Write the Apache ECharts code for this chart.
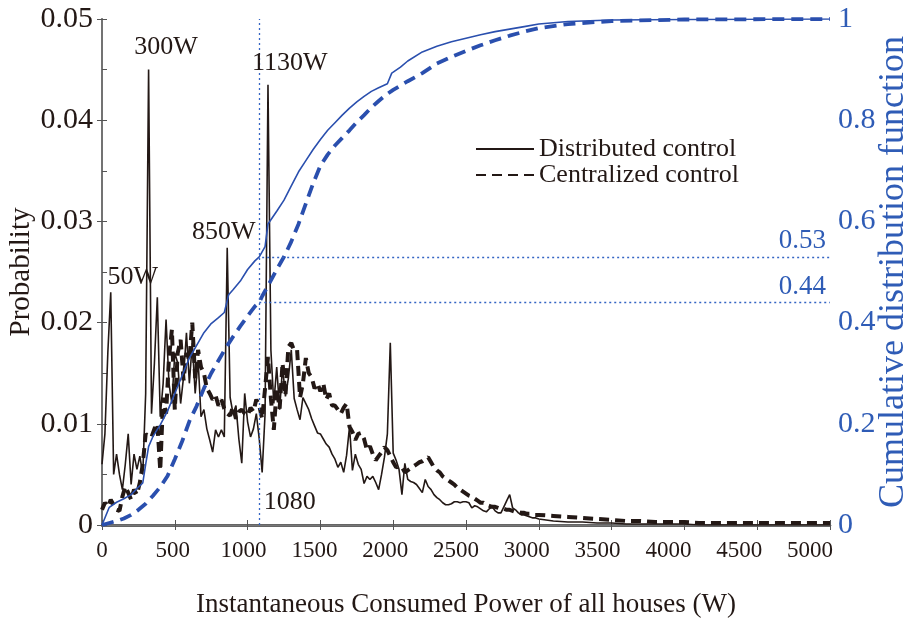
<!DOCTYPE html>
<html>
<head>
<meta charset="utf-8">
<script src="https://cdn.jsdelivr.net/npm/echarts@6/dist/echarts.min.js"></script>
<style>
  html, body { margin: 0; padding: 0; background: #fff; }
  #chart { width: 912px; height: 623px; }
</style>
</head>
<body>
<div id="chart"></div>
<script>
// power bins (W)
var powerGrid = [
  0, 20, 40, 60, 80, 100, 120, 140, 160, 180,
  200, 220, 240, 260, 280, 300, 320, 340, 360, 380,
  400, 420, 440, 460, 480, 500, 520, 540, 560, 580,
  600, 620, 640, 660, 680, 700, 720, 740, 760, 780,
  800, 820, 840, 860, 880, 900, 920, 940, 960, 980,
  1000, 1020, 1040, 1060, 1080, 1100, 1120, 1140, 1160, 1180,
  1200, 1220, 1240, 1260, 1280, 1300, 1320, 1340, 1360, 1380,
  1400, 1420, 1440, 1460, 1480, 1500, 1520, 1540, 1560, 1580,
  1600, 1620, 1640, 1660, 1680, 1700, 1720, 1740, 1760, 1780,
  1800, 1820, 1840, 1860, 1880, 1900, 1920, 1940, 1960, 1980,
  2000, 2020, 2040, 2060, 2080, 2100, 2120, 2140, 2160, 2180,
  2200, 2220, 2240, 2260, 2280, 2300, 2320, 2340, 2360, 2380,
  2400, 2420, 2440, 2460, 2480, 2500, 2520, 2540, 2560, 2580,
  2600, 2620, 2640, 2660, 2680, 2700, 2720, 2740, 2760, 2780,
  2800, 2820, 2840, 2860, 2880, 2900, 2920, 2940, 2960, 2980,
  3000,
  3100, 3200, 3300, 3400, 3500, 3600, 3700, 3800, 3900, 4000,
  4100, 4200, 4300, 4400, 4500, 4600, 4700, 4800, 4900, 5000
];

var distProb = [
  0.006, 0.009, 0.017, 0.023, 0.005, 0.007, 0.005, 0.0035, 0.006, 0.009,
  0.004, 0.007, 0.0055, 0.0068, 0.005, 0.013, 0.045, 0.011, 0.016, 0.0225,
  0.0107, 0.014, 0.0203, 0.014, 0.012, 0.017, 0.016, 0.012, 0.0146, 0.019,
  0.014, 0.018, 0.013, 0.0163, 0.0107, 0.0114, 0.0095, 0.0084, 0.0072, 0.0094,
  0.0087, 0.0094, 0.0087, 0.0274, 0.0126, 0.011, 0.0118, 0.0085, 0.0061, 0.013,
  0.0102, 0.0087, 0.0095, 0.011, 0.0085, 0.0052, 0.011, 0.0435, 0.0173, 0.012,
  0.0156, 0.0114, 0.0156, 0.0127, 0.0145, 0.0173, 0.0125, 0.0114, 0.0104, 0.0126,
  0.012, 0.0114, 0.0105, 0.0098, 0.0091, 0.009, 0.0085, 0.008, 0.0077, 0.007,
  0.0065, 0.0057, 0.0062, 0.0052, 0.0069, 0.0097, 0.0054, 0.007, 0.006, 0.0055,
  0.0041, 0.0048, 0.0045, 0.0048, 0.0042, 0.0035, 0.005, 0.0067, 0.009, 0.018,
  0.0071, 0.0064, 0.0055, 0.003, 0.0061, 0.0045, 0.0043, 0.0042, 0.004, 0.0036,
  0.0032, 0.0045, 0.0038, 0.0035, 0.003, 0.0027, 0.0025, 0.0022, 0.002, 0.002,
  0.0021, 0.0023, 0.0023, 0.0022, 0.0023, 0.0023, 0.0022, 0.0017, 0.0019, 0.0018,
  0.0016, 0.0014, 0.0013, 0.0016, 0.0018, 0.0014, 0.0012, 0.0012, 0.0018, 0.0024,
  0.003, 0.0017, 0.0015, 0.0012, 0.001, 0.001, 0.0009, 0.0008, 0.0007, 0.0007,
  0.0006,
  0.0004, 0.0003, 0.0003, 0.0002, 0.0002, 0.0001, 0.0001, 0.0001, 0.0001, 0.0001,
  0, 0, 0, 0, 0, 0, 0, 0, 0, 0
];

var centProb = [
  0.0015, 0.0022, 0.0018, 0.0025, 0.002, 0.0015, 0.0014, 0.0028, 0.0038, 0.0032,
  0.0025, 0.0035, 0.003, 0.0042, 0.006, 0.009, 0.0087, 0.0087, 0.0095, 0.010,
  0.0054, 0.0126, 0.011, 0.0165, 0.0193, 0.0114, 0.017, 0.0183, 0.0143, 0.017,
  0.0163, 0.020, 0.0145, 0.0173, 0.0156, 0.015, 0.0135, 0.013, 0.0124, 0.0128,
  0.0118, 0.0124, 0.0115, 0.011, 0.0108, 0.0117, 0.0105, 0.0112, 0.0114, 0.011,
  0.0108, 0.0116, 0.0112, 0.0124, 0.0118, 0.0105, 0.0135, 0.0166, 0.0125, 0.0094,
  0.0135, 0.0115, 0.016, 0.0128, 0.0176, 0.018, 0.0172, 0.0173, 0.0126, 0.014,
  0.0165, 0.015, 0.0146, 0.0135, 0.014, 0.0132, 0.014, 0.0124, 0.013, 0.0118,
  0.0118, 0.0114, 0.011, 0.0116, 0.012, 0.0097, 0.0092, 0.0084, 0.009, 0.0091,
  0.0085, 0.0074, 0.0078, 0.007, 0.0064, 0.0068, 0.0072, 0.0077, 0.0074, 0.0068,
  0.0062, 0.0057, 0.0058, 0.0057, 0.0052, 0.0054, 0.0056, 0.0058, 0.006, 0.0062,
  0.0063, 0.0065, 0.0067, 0.0062, 0.0057, 0.0054, 0.0052, 0.0048, 0.0046, 0.0044,
  0.0042, 0.004, 0.0037, 0.0035, 0.0033, 0.0031, 0.0029, 0.0028, 0.0026, 0.0024,
  0.0022, 0.0022, 0.002, 0.0019, 0.0018, 0.0018, 0.0017, 0.0016, 0.0016, 0.0015,
  0.0015, 0.0014, 0.0013, 0.0013, 0.0012, 0.0012, 0.0011, 0.0011, 0.001, 0.001,
  0.001,
  0.0009, 0.0008, 0.0007, 0.0006, 0.0005, 0.0004, 0.0004, 0.0003, 0.0003, 0.0003,
  0.0002, 0.0002, 0.0002, 0.0002, 0.0002, 0.0002, 0.0002, 0.0002, 0.0002, 0.0002
];

// cumulative distribution functions
var distCdfPower = [0, 50, 100, 150, 200, 250, 280, 300, 320, 350, 400, 450, 500, 550, 600, 650, 700, 750, 800, 840, 870, 900, 950, 1000, 1050, 1080, 1120, 1140, 1200, 1250, 1300, 1350, 1400, 1450, 1500, 1550, 1600, 1650, 1700, 1750, 1800, 1850, 1900, 1960, 1990, 2050, 2100, 2200, 2300, 2400, 2500, 2600, 2700, 2800, 2900, 3000, 3200, 3500, 4000, 5000];
var distCdf = [0, 0.035, 0.045, 0.052, 0.06, 0.075, 0.083, 0.12, 0.155, 0.175, 0.198, 0.225, 0.26, 0.295, 0.33, 0.355, 0.38, 0.398, 0.41, 0.42, 0.455, 0.465, 0.482, 0.505, 0.522, 0.53, 0.55, 0.595, 0.62, 0.642, 0.67, 0.698, 0.72, 0.742, 0.762, 0.78, 0.795, 0.81, 0.824, 0.836, 0.847, 0.857, 0.864, 0.872, 0.893, 0.905, 0.917, 0.935, 0.946, 0.955, 0.962, 0.969, 0.975, 0.98, 0.985, 0.99, 0.995, 0.998, 0.999, 1];

var centCdfPower = [0, 50, 100, 150, 200, 250, 300, 350, 400, 450, 500, 550, 600, 650, 700, 750, 800, 850, 900, 950, 1000, 1050, 1080, 1100, 1150, 1200, 1250, 1300, 1350, 1400, 1450, 1500, 1550, 1600, 1650, 1700, 1750, 1800, 1850, 1900, 1950, 2000, 2100, 2200, 2300, 2400, 2500, 2600, 2700, 2800, 2900, 3000, 3200, 3500, 4000, 5000];
var centCdf = [0, 0.004, 0.008, 0.013, 0.02, 0.03, 0.042, 0.058, 0.075, 0.097, 0.13, 0.165, 0.205, 0.235, 0.27, 0.3, 0.325, 0.35, 0.372, 0.393, 0.413, 0.432, 0.44, 0.452, 0.478, 0.505, 0.53, 0.56, 0.595, 0.635, 0.675, 0.71, 0.732, 0.75, 0.765, 0.78, 0.796, 0.81, 0.825, 0.838, 0.85, 0.86, 0.877, 0.893, 0.912, 0.925, 0.937, 0.948, 0.958, 0.967, 0.975, 0.982, 0.99, 0.996, 0.999, 1];

// annotations: [text, power, value]
var peakNotes = [
  ["300W", 440, 0.0472],
  ["1130W", 1290, 0.0456],
  ["850W", 836, 0.0289],
  ["50W", 212, 0.0245],
  ["1080", 1290, 0.0023]
];
var cdfNotes = [
  ["0.53", 4810, 0.562],
  ["0.44", 4810, 0.471]
];

var black = "#231815";
var blue = "#2a4fae";
var blueText = "#2f5cb6";
var serif = "Liberation Serif";

function pairs(xs, ys) {
  return xs.map(function (x, i) { return [x, ys[i]]; });
}
function fmt(v) {
  return String(Number(v.toFixed(2)));
}

var chart = echarts.init(document.getElementById("chart"));

var option = {
  animation: false,
  backgroundColor: "#fff",
  textStyle: { fontFamily: serif },
  grid: { left: 102, right: 82, top: 19, bottom: 98, containLabel: false, outerBoundsMode: "none" },
  legend: {
    data: ["Distributed control", "Centralized control"],
    orient: "vertical",
    left: 470,
    top: 131,
    itemWidth: 58,
    itemHeight: 14,
    itemGap: 0,
    itemStyle: { opacity: 0 },
    textStyle: { fontFamily: serif, fontSize: 26, color: black }
  },
  xAxis: [
    {
      type: "value",
      min: 0,
      max: 5000,
      interval: 500,
      position: "bottom",
      name: "Instantaneous Consumed Power of all houses (W)",
      nameLocation: "middle",
      nameGap: 66,
      nameMoveOverlap: false,
      nameTextStyle: { fontFamily: serif, fontSize: 27, color: black },
      axisLine: { lineStyle: { color: "#333", width: 2.5 } },
      axisTick: { inside: true, length: 5, lineStyle: { color: "#555" } },
      axisLabel: { show: false },
      splitLine: { show: false }
    },
    {
      type: "value",
      min: 0,
      max: 5000,
      interval: 500,
      position: "top",
      axisLine: { lineStyle: { color: "#777", width: 1.2 } },
      axisTick: { inside: true, length: 5, lineStyle: { color: "#555" } },
      axisLabel: { show: false },
      splitLine: { show: false }
    },
    {
      // tick labels of the source figure sit slightly tighter than its ticks
      type: "value",
      min: 0,
      max: 5141,
      interval: 500,
      position: "bottom",
      axisLine: { show: false },
      axisTick: { show: false },
      axisLabel: {
        fontFamily: serif, fontSize: 23, color: black, margin: 14,
        showMaxLabel: false,
        formatter: function (v) { return v <= 5000 ? String(v) : ""; }
      },
      splitLine: { show: false }
    }
  ],
  yAxis: [
    {
      type: "value",
      min: 0,
      max: 0.05,
      interval: 0.01,
      position: "left",
      name: "Probability",
      nameLocation: "middle",
      nameRotate: 90,
      nameGap: 66,
      nameMoveOverlap: false,
      nameTextStyle: { fontFamily: serif, fontSize: 29, color: black },
      axisLine: { lineStyle: { color: "#6a6a6a", width: 2 } },
      axisTick: { inside: true, length: 5, lineStyle: { color: "#555" } },
      minorTick: { show: true, splitNumber: 2, length: 5, lineStyle: { color: "#555" } },
      axisLabel: { fontFamily: serif, fontSize: 30, color: black, margin: 9, formatter: fmt },
      splitLine: { show: false }
    },
    {
      type: "value",
      min: 0,
      max: 1,
      interval: 0.2,
      position: "right",
      name: "Cumulative distribution function",
      nameLocation: "middle",
      nameRotate: 90,
      nameGap: 46,
      nameMoveOverlap: false,
      nameTextStyle: { fontFamily: serif, fontSize: 36, color: blueText },
      axisLine: { lineStyle: { color: "#777", width: 1.5 } },
      axisTick: { inside: true, length: 5, lineStyle: { color: "#555" } },
      axisLabel: { fontFamily: serif, fontSize: 30, color: blueText, margin: 8, formatter: fmt },
      splitLine: { show: false }
    }
  ],
  series: [
    {
      name: "Distributed control",
      type: "line",
      xAxisIndex: 0,
      yAxisIndex: 0,
      symbol: "none",
      data: pairs(powerGrid, distProb),
      lineStyle: { color: black, width: 1.6 },
      itemStyle: { color: black },
      markLine: {
        silent: true,
        symbol: "none",
        label: { show: false },
        lineStyle: { color: "#3565c4", width: 1.3, type: [2, 3] },
        data: [{ xAxis: 1080 }]
      },
      markPoint: {
        symbol: "circle",
        symbolSize: 0,
        label: {
          show: true,
          position: "inside",
          fontFamily: serif,
          fontSize: 26,
          color: black,
          formatter: function (p) { return p.name; }
        },
        data: peakNotes.map(function (n) { return { name: n[0], coord: [n[1], n[2]] }; })
      }
    },
    {
      name: "Centralized control",
      type: "line",
      xAxisIndex: 0,
      yAxisIndex: 0,
      symbol: "none",
      data: pairs(powerGrid, centProb),
      lineStyle: { color: black, width: 4, type: [10, 6] },
      itemStyle: { color: black }
    },
    {
      name: "CDF distributed",
      type: "line",
      xAxisIndex: 0,
      yAxisIndex: 1,
      symbol: "none",
      data: pairs(distCdfPower, distCdf),
      lineStyle: { color: blue, width: 1.6 },
      itemStyle: { color: blue },
      markLine: {
        silent: true,
        symbol: "none",
        label: { show: false },
        lineStyle: { color: "#3565c4", width: 1.3, type: [2, 3] },
        data: [
          [{ coord: [1100, 0.53] }, { coord: [5000, 0.53] }],
          [{ coord: [1080, 0.44] }, { coord: [5000, 0.44] }]
        ]
      },
      markPoint: {
        symbol: "circle",
        symbolSize: 0,
        label: {
          show: true,
          position: "inside",
          fontFamily: serif,
          fontSize: 27,
          color: blueText,
          formatter: function (p) { return p.name; }
        },
        data: cdfNotes.map(function (n) { return { name: n[0], coord: [n[1], n[2]] }; })
      }
    },
    {
      name: "CDF centralized",
      type: "line",
      xAxisIndex: 0,
      yAxisIndex: 1,
      symbol: "none",
      data: pairs(centCdfPower, centCdf),
      lineStyle: { color: blue, width: 3.8, type: [12, 7] },
      itemStyle: { color: blue }
    }
  ]
};

chart.setOption(option);
</script>
</body>
</html>
